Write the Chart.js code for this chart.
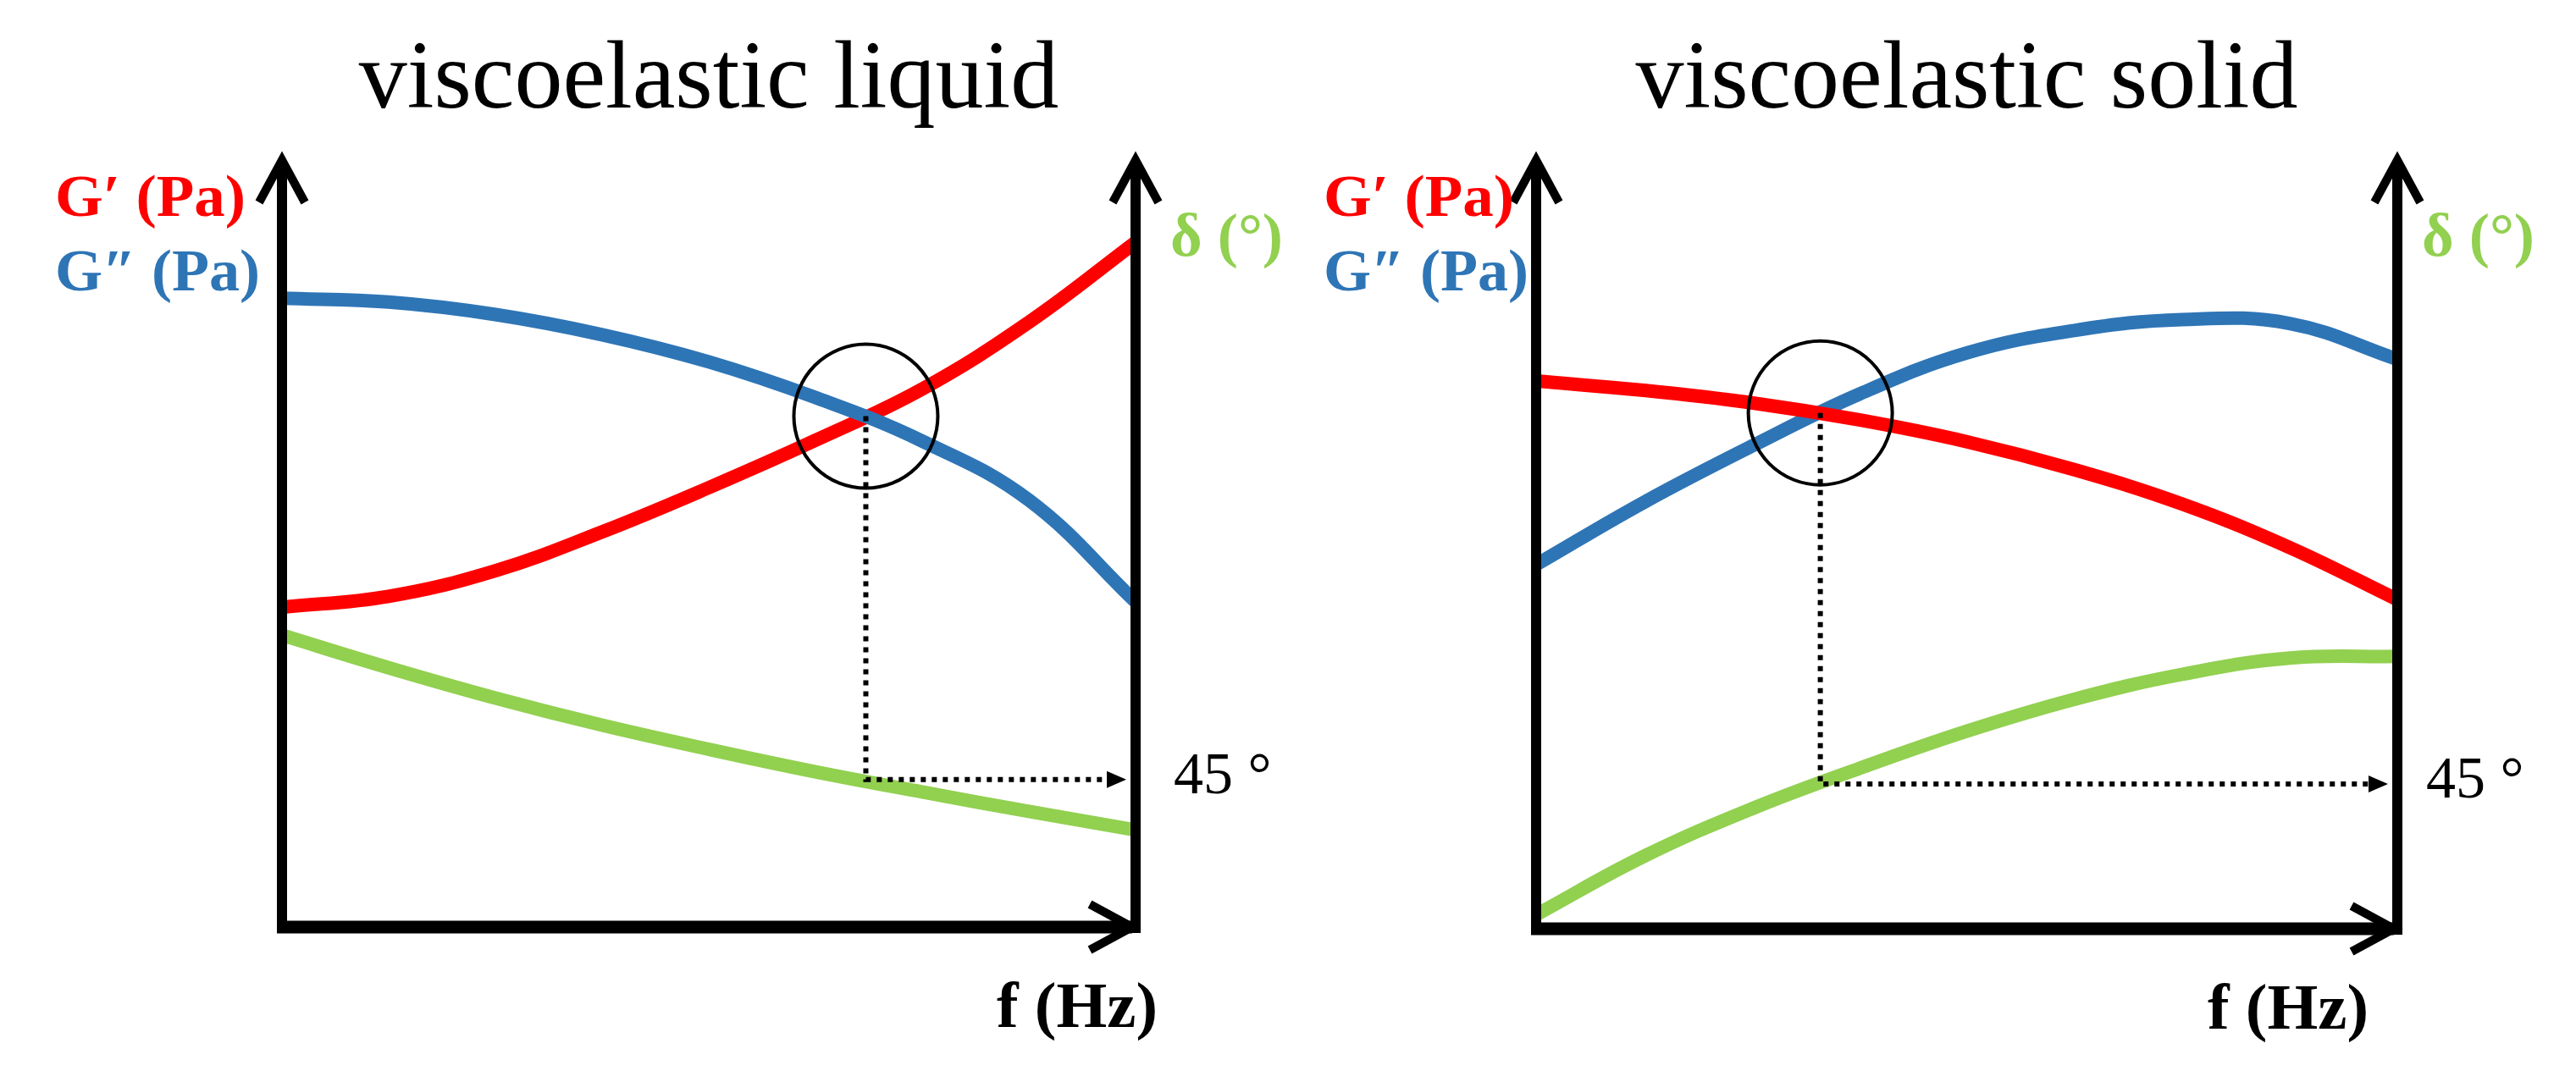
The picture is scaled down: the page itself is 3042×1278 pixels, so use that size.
<!DOCTYPE html>
<html>
<head>
<meta charset="utf-8">
<title>viscoelastic liquid / viscoelastic solid</title>
<script src="https://cdn.jsdelivr.net/npm/chart.js@4.4.1/dist/chart.umd.min.js"></script>
<style>
  html, body { margin: 0; padding: 0; background: #fff; }
  .wrap { display: flex; width: 3042px; height: 1278px; }
  canvas { display: block; }
</style>
</head>
<body>
<div class="wrap">
  <canvas id="liquid-chart" width="1521" height="1278"></canvas>
  <canvas id="solid-chart" width="1521" height="1278"></canvas>
</div>
<script>
const titles = ['viscoelastic liquid', 'viscoelastic solid'];
const storageLabel = 'G′ (Pa)';
const lossLabel = 'G″ (Pa)';
const deltaLabel = 'δ (°)';
const freqLabel = 'f (Hz)';
const crossLabel = '45 °';

// frequency steps on a 0-100 sketch scale, shared by every curve
const freq = [0, 12.5, 25, 37.5, 50, 62.5, 75, 87.5, 100];

// viscoelastic liquid
const liquidStorage = [41.2, 42.6, 45.9, 50.9, 56.6, 62.7, 69.3, 77.9, 88.2];
const liquidLoss = [81.0, 80.5, 78.9, 76.3, 72.8, 68.2, 62.6, 55.0, 41.9];
const liquidDelta = [37.6, 33.4, 29.5, 26.0, 22.9, 20.0, 17.4, 14.9, 12.5];
const liquidCross = [68.4, 65.8];
const liquidDelta45 = 19.0;

// viscoelastic solid
const solidStorage = [70.4, 69.2, 67.6, 65.4, 62.6, 59.0, 54.6, 49.0, 42.3];
const solidLoss = [46.8, 54.8, 62.0, 68.7, 74.0, 76.9, 78.3, 77.8, 73.2];
const solidDelta = [1.8, 9.3, 15.4, 20.6, 25.4, 29.5, 32.7, 34.8, 35.0];
const solidCross = [33.0, 66.3];
const solidDelta45 = 18.6;

const RED = '#FF0000';
const BLUE = '#2E75B6';
const GREEN = '#92D050';
const SERIF = '"Liberation Serif", "Times New Roman", serif';

const toPoints = (vs) => freq.map((f, i) => ({x: f, y: vs[i]}));

const chevron = (ctx, tipX, tipY, dx, dy, nx, ny) => {
  ctx.beginPath();
  ctx.moveTo(tipX + dx + nx, tipY + dy + ny);
  ctx.lineTo(tipX, tipY);
  ctx.lineTo(tipX + dx - nx, tipY + dy - ny);
  ctx.stroke();
};

// text fitted sideways to the width of the original lettering
const wideText = (ctx, text, x, y, width, align) => {
  const sx = width / ctx.measureText(text).width;
  ctx.save();
  ctx.textAlign = 'left';
  const x0 = align === 'right' ? x - width : x;
  ctx.translate(x0, y);
  ctx.scale(sx, 1);
  ctx.fillText(text, 0, 0);
  ctx.restore();
};

const sketchPlugin = {
  id: 'sketch',
  afterDatasetsDraw(chart, args, opts) {
    const {ctx, chartArea: {left, right, top, bottom}, scales: {x, y}} = chart;
    const cx = x.getPixelForValue(opts.cross[0]);
    const cy = y.getPixelForValue(opts.cross[1]);
    const dy = y.getPixelForValue(opts.delta45);
    ctx.save();

    // dotted guide from the crossover down to delta, then to the right axis
    ctx.strokeStyle = '#000';
    ctx.fillStyle = '#000';
    ctx.lineWidth = 6;
    ctx.setLineDash([6, 7]);
    ctx.beginPath();
    ctx.moveTo(cx, cy);
    ctx.lineTo(cx, dy);
    ctx.lineTo(right - 30, dy);
    ctx.stroke();
    ctx.setLineDash([]);
    ctx.beginPath();
    ctx.moveTo(right - 11, dy);
    ctx.lineTo(right - 34, dy - 10);
    ctx.lineTo(right - 34, dy + 10);
    ctx.closePath();
    ctx.fill();

    // circle round the crossover
    ctx.lineWidth = 4;
    ctx.beginPath();
    ctx.arc(cx, cy, 85, 0, Math.PI * 2);
    ctx.stroke();

    // axes
    ctx.lineCap = 'butt';
    ctx.lineJoin = 'miter';
    ctx.lineWidth = 12;
    ctx.beginPath();
    ctx.moveTo(left, bottom + 7);
    ctx.lineTo(left, top + 12);
    ctx.moveTo(right, bottom + 7);
    ctx.lineTo(right, top + 12);
    ctx.stroke();
    ctx.lineWidth = 15;
    ctx.beginPath();
    ctx.moveTo(left - 6, bottom);
    ctx.lineTo(right - 4, bottom);
    ctx.stroke();
    ctx.lineWidth = 10;
    chevron(ctx, left, top + 11, 0, 50, 27, 0);
    chevron(ctx, right, top + 11, 0, 50, 27, 0);
    chevron(ctx, right - 4, bottom, -50, 0, 0, 27);

    // texts
    const m = opts.marks;
    ctx.textBaseline = 'alphabetic';
    ctx.textAlign = 'center';
    ctx.fillStyle = '#000';
    ctx.font = `114px ${SERIF}`;
    ctx.fillText(opts.title, (left + right) / 2, 127);

    ctx.font = `bold 70px ${SERIF}`;
    ctx.fillStyle = RED;
    wideText(ctx, storageLabel, m.gx, top + 77, 225);
    ctx.fillStyle = BLUE;
    wideText(ctx, lossLabel, m.gx, top + 165, 242);
    ctx.font = `bold 72px ${SERIF}`;
    ctx.fillStyle = GREEN;
    wideText(ctx, deltaLabel, right + m.dx, top + 124, 133);

    ctx.fillStyle = '#000';
    ctx.textAlign = 'left';
    ctx.textBaseline = 'middle';
    ctx.font = `70px ${SERIF}`;
    ctx.fillText(crossLabel, right + m.cx, dy - 2);

    ctx.textBaseline = 'alphabetic';
    ctx.font = `bold 76px ${SERIF}`;
    wideText(ctx, freqLabel, right + m.fx, bottom + 118, 190, 'right');
    ctx.restore();
  }
};

const makeChart = (id, title, storage, loss, delta, cross, delta45, padding, marks, storageOnTop) => {
  const canvas = document.getElementById(id);
  return new Chart(canvas.getContext('2d'), {
    type: 'line',
    data: {
      datasets: [
        {data: toPoints(storage), borderColor: RED, order: storageOnTop ? 0 : 1},
        {data: toPoints(loss), borderColor: BLUE, order: storageOnTop ? 1 : 0},
        {data: toPoints(delta), borderColor: GREEN, order: 2},
      ],
    },
    options: {
      responsive: false,
      animation: false,
      devicePixelRatio: 1,
      layout: {padding},
      elements: {
        point: {radius: 0},
        line: {
          borderWidth: 16,
          tension: 0.4,
          fill: false,
        },
      },
      scales: {
        x: {type: 'linear', min: 0, max: 100, display: false},
        y: {type: 'linear', min: 0, max: 100, display: false},
      },
      plugins: {
        legend: {display: false},
        tooltip: {enabled: false},
        sketch: {title, cross, delta45, marks},
      },
    },
    plugins: [sketchPlugin],
  });
};

makeChart('liquid-chart', titles[0],
  liquidStorage, liquidLoss, liquidDelta,
  liquidCross, liquidDelta45,
  {left: 333, right: 180, top: 178, bottom: 183},
  {gx: 65, dx: 41, cx: 45, fx: 26},
  false);

makeChart('solid-chart', titles[1],
  solidStorage, solidLoss, solidDelta,
  solidCross, solidDelta45,
  {left: 293, right: 211, top: 178, bottom: 181},
  {gx: 42, dx: 29, cx: 34, fx: -34},
  true);
</script>
</body>
</html>
